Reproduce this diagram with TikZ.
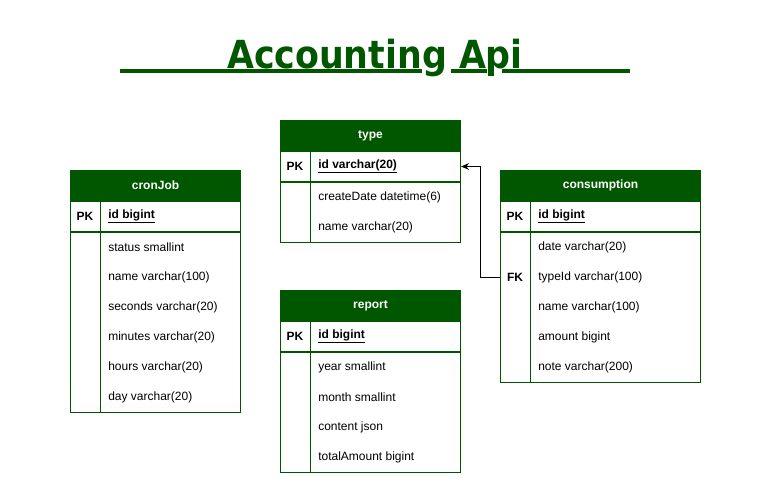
\documentclass[tikz,border=0pt]{standalone}
\usepackage{fontspec}
\setmainfont{Liberation Sans}
\newfontfamily\titlefont{DejaVu Sans Condensed}
\usetikzlibrary{arrows.meta}

\begin{document}
\begin{tikzpicture}[x=0.75pt, y=-0.75pt]
    \definecolor{erGreen}{HTML}{005700}

    \tikzset{
        tablehead/.style={draw=erGreen, fill=erGreen, text=white, line width=0.75pt,
            font={\fontsize{9}{11}\selectfont\bfseries}, inner sep=0pt,
            minimum height=22.5pt, anchor=north west},
        keyrow/.style={draw=erGreen, fill=white, line width=0.75pt, inner sep=0pt,
            minimum height=22.5pt, anchor=north west},
        fieldbox/.style={draw=erGreen, fill=white, line width=0.75pt, inner sep=0pt,
            anchor=north west},
        tableline/.style={draw=erGreen, line width=0.75pt},
        keylabel/.style={font={\fontsize{9}{11}\selectfont\bfseries}, inner sep=0pt},
        fieldlabel/.style={font={\fontsize{9}{11}\selectfont}, inner sep=0pt, anchor=west},
        keyfield/.style={fieldlabel, font={\fontsize{9}{11}\selectfont\bfseries}},
        titletext/.style={text=erGreen, font={\titlefont\fontsize{29}{34}\selectfont\bfseries},
            inner sep=0pt, anchor=base},
        titleline/.style={draw=erGreen, line width=2.6pt},
        fkarrow/.style={-{Stealth[length=6pt,width=5pt]}, line width=0.75pt}
    }

    \useasboundingbox (0,0) rectangle (770,490);

    % Title
    \node[titletext] (title) at (375,68) {Accounting Api};
    \draw[titleline] (120,71) -- (422,71) (451,71) -- (487,71) (502,71) -- (630,71);

    % Table type
    \node[tablehead, minimum width=135pt] (type) at (280,120) {type};
    \node[keyrow, minimum width=135pt] (typePK) at (type.south west) {};
    \node[fieldbox, minimum width=135pt, minimum height=45pt] (typeBody) at (typePK.south west) {};
    \draw[tableline] ([xshift=22.5pt]typePK.north west) -- ([xshift=22.5pt]typeBody.south west);
    \node[keylabel] (typeKey) at ([xshift=11.25pt]typePK.west) {PK};
    \node[keyfield] (typeId) at ([xshift=28.5pt]typePK.west) {\underline{id varchar(20)}};
    \foreach \f [count=\i] in {{createDate datetime(6)}, {name varchar(20)}}
        \node[fieldlabel] (typeF\i) at ([xshift=28.5pt, yshift=-(\i-0.5)*22.5pt]typeBody.north west) {\f};

    % Table cronJob
    \node[tablehead, minimum width=127.5pt] (cronJob) at (70,170) {cronJob};
    \node[keyrow, minimum width=127.5pt] (cronJobPK) at (cronJob.south west) {};
    \node[fieldbox, minimum width=127.5pt, minimum height=135pt] (cronJobBody) at (cronJobPK.south west) {};
    \draw[tableline] ([xshift=22.5pt]cronJobPK.north west) -- ([xshift=22.5pt]cronJobBody.south west);
    \node[keylabel] (cronJobKey) at ([xshift=11.25pt]cronJobPK.west) {PK};
    \node[keyfield] (cronJobId) at ([xshift=28.5pt]cronJobPK.west) {\underline{id bigint}};
    \foreach \f [count=\i] in {{status smallint}, {name varchar(100)}, {seconds varchar(20)},
                               {minutes varchar(20)}, {hours varchar(20)}, {day varchar(20)}}
        \node[fieldlabel] (cronJobF\i) at ([xshift=28.5pt, yshift=-(\i-0.5)*22.5pt]cronJobBody.north west) {\f};

    % Table consumption
    \node[tablehead, minimum width=150pt] (consumption) at (500,170) {consumption};
    \node[keyrow, minimum width=150pt] (consumptionPK) at (consumption.south west) {};
    \node[fieldbox, minimum width=150pt, minimum height=112.5pt] (consumptionBody) at (consumptionPK.south west) {};
    \draw[tableline] ([xshift=22.5pt]consumptionPK.north west) -- ([xshift=22.5pt]consumptionBody.south west);
    \node[keylabel] (consumptionKey) at ([xshift=11.25pt]consumptionPK.west) {PK};
    \node[keyfield] (consumptionId) at ([xshift=28.5pt]consumptionPK.west) {\underline{id bigint}};
    \foreach \f [count=\i] in {{date varchar(20)}, {typeId varchar(100)}, {name varchar(100)},
                               {amount bigint}, {note varchar(200)}}
        \node[fieldlabel] (consumptionF\i) at ([xshift=28.5pt, yshift=-(\i-0.5)*22.5pt]consumptionBody.north west) {\f};
    \node[keylabel] (consumptionFK) at ([xshift=11.25pt, yshift=-33.75pt]consumptionBody.north west) {FK};

    % Table report
    \node[tablehead, minimum width=135pt] (report) at (280,290) {report};
    \node[keyrow, minimum width=135pt] (reportPK) at (report.south west) {};
    \node[fieldbox, minimum width=135pt, minimum height=90pt] (reportBody) at (reportPK.south west) {};
    \draw[tableline] ([xshift=22.5pt]reportPK.north west) -- ([xshift=22.5pt]reportBody.south west);
    \node[keylabel] (reportKey) at ([xshift=11.25pt]reportPK.west) {PK};
    \node[keyfield] (reportId) at ([xshift=28.5pt]reportPK.west) {\underline{id bigint}};
    \foreach \f [count=\i] in {{year smallint}, {month smallint}, {content json}, {totalAmount bigint}}
        \node[fieldlabel] (reportF\i) at ([xshift=28.5pt, yshift=-(\i-0.5)*22.5pt]reportBody.north west) {\f};

    % Foreign key typeId -> type.id
    \draw[fkarrow] (consumptionBody.west |- consumptionFK) -- ++(-20,0) |- (typePK.east);

\end{tikzpicture}
\end{document}
